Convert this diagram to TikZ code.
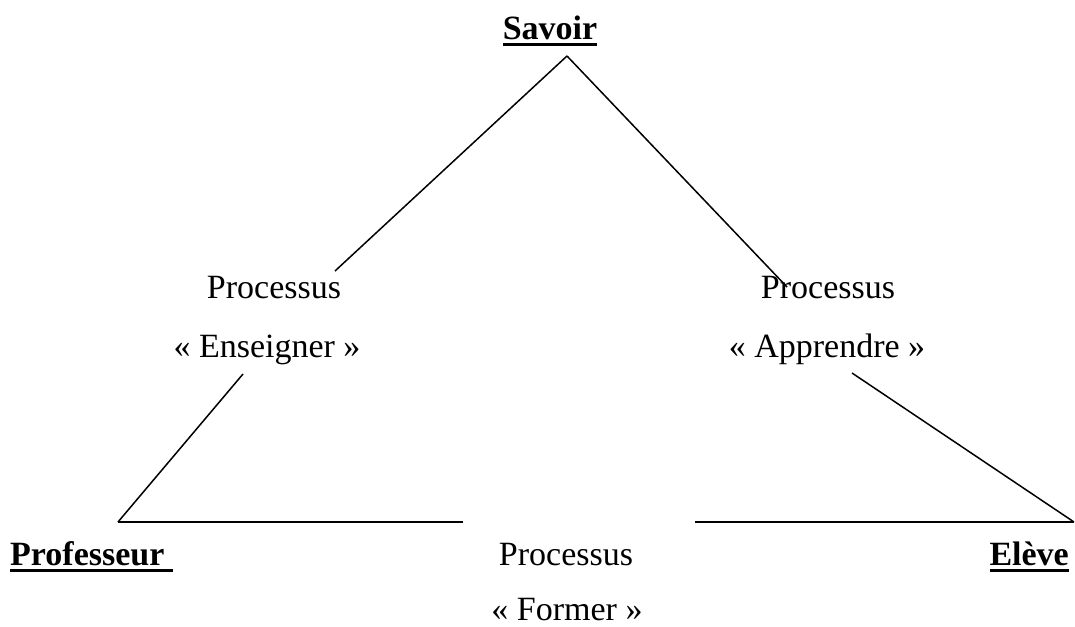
\documentclass[tikz,border=0pt]{standalone}
\usepackage{fontspec}
\setmainfont{Liberation Serif}
\newcommand\ulword[1]{\setbox0\hbox{#1}\rlap{\rule[-6.5pt]{\wd0}{3pt}}\box0}
\tikzset{
  lbl/.style={inner sep=0pt, anchor=base, font=\fontsize{34}{40}\selectfont},
  key/.style={lbl, font=\fontsize{34}{40}\selectfont\bfseries},
  link/.style={line width=1.5pt}
}
\begin{document}
\begin{tikzpicture}[x=1pt,y=-1pt]
\useasboundingbox (0,0) rectangle (1075,626);
% labels
\node[key] (savoir) at (550,40) {\ulword{Savoir}};
\node[key, anchor=base west] (prof) at (10,565) {\ulword{Professeur\ }};
\node[key, anchor=base east] (eleve) at (1069,565) {\ulword{Elève}};
\node[lbl] (pE) at (274,298) {Processus};
\node[lbl] (qE) at (267,357) {« Enseigner »};
\node[lbl] (pA) at (828,298) {Processus};
\node[lbl] (qA) at (827,357) {« Apprendre »};
\node[lbl] (pF) at (566,565) {Processus};
\node[lbl] (qF) at (567,620) {« Former »};
% line ends
\coordinate (apex) at (567,56);
\coordinate (eTop) at (335,271);
\coordinate (aTop) at (787,287);
\coordinate (eBot) at (243,374);
\coordinate (aBot) at (852,373);
\coordinate (pc) at (118,522);
\coordinate (ec) at (1074,522);
\coordinate (fL) at (463,522);
\coordinate (fR) at (695,522);
% connectors
\draw[link] (apex) -- (eTop);
\draw[link] (apex) -- (aTop);
\draw[link] (eBot) -- (pc);
\draw[link] (aBot) -- (ec);
\draw[link] (pc) -- (fL);
\draw[link] (fR) -- (ec);
\end{tikzpicture}
\end{document}
